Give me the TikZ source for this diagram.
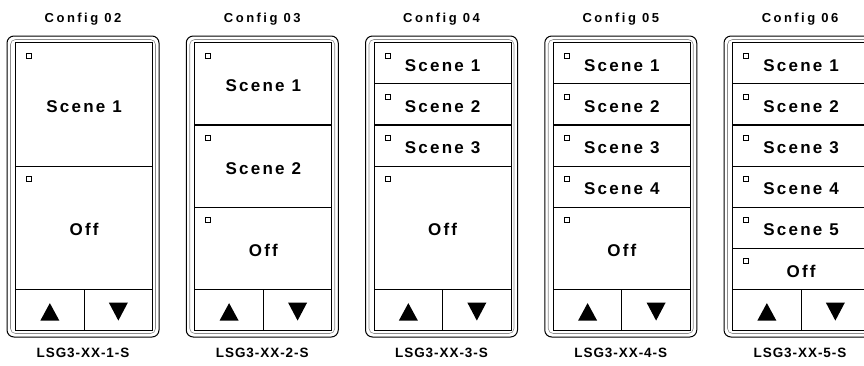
\documentclass[tikz,border=0pt]{standalone}
\usepackage{fontspec}
\setmainfont{Liberation Sans}
\newfontfamily\titlefont[LetterSpace=19]{Liberation Sans}
\newfontfamily\keyfont[LetterSpace=13]{Liberation Sans}
\newfontfamily\modelfont[LetterSpace=7]{Liberation Sans}
\usetikzlibrary{calc}
\tikzset{
  frame/.style={draw=black, line width=1pt, rounded corners=7pt},
  bevel/.style={draw=black!45, line width=0.6pt, rounded corners=5pt},
  btn/.style={draw=black, line width=1.2pt, minimum width=137pt, inner sep=0pt, anchor=north west},
  arrowbtn/.style={btn, minimum width=68.5pt, minimum height=41pt},
  lamp/.style={draw=black, line width=0.6pt, minimum size=5pt, inner sep=0pt, anchor=north west},
  keytext/.style={anchor=base, inner sep=0pt, font=\keyfont\bfseries\fontsize{17}{17}\selectfont},
  cfgtext/.style={anchor=base, inner sep=0pt, font=\titlefont\bfseries\fontsize{13}{13}\selectfont},
  modeltext/.style={anchor=base, inner sep=0pt, font=\modelfont\bfseries\fontsize{13.5}{13.5}\selectfont}
}
\begin{document}
\begin{tikzpicture}[x=1pt,y=-1pt]
	\useasboundingbox (0,0) rectangle (864,365);
	\clip (0,0) rectangle (864,365);
	\foreach \k/\cfg/\units in {
		1/02/{3/Scene 1,3/Off},
		2/03/{2/Scene 1,2/Scene 2,2/Off},
		3/04/{1/Scene 1,1/Scene 2,1/Scene 3,3/Off},
		4/05/{1/Scene 1,1/Scene 2,1/Scene 3,1/Scene 4,2/Off},
		5/06/{1/Scene 1,1/Scene 2,1/Scene 3,1/Scene 4,1/Scene 5,1/Off}}{
		\pgfmathsetmacro\xl{7+179.25*(\k-1)}
		% faceplate
		\draw[frame] (\xl,36) rectangle ++(152,301);
		\draw[bevel] (\xl+3.5,39.5) rectangle ++(145,294);
		\node[cfgtext] (cfg\k) at (\xl+76,22) {Config \cfg};
		\node[modeltext] (model\k) at (\xl+76,357) {LSG3-XX-\k-S};
		% scene buttons
		\foreach \u/\txt [count=\j, remember=\ybot as \ytop (initially 42)] in \units {
			\pgfmathsetmacro\ybot{\ytop+\u*247/6}
			\node[btn, minimum height=\u*247/6] (b\k-\j) at (\xl+8,\ytop) {};
			\node[lamp] (lamp\k-\j) at ($(b\k-\j.north west)+(11,10.5)$) {};
			\node[keytext] (t\k-\j) at ($(b\k-\j.center)+(0,8)$) {\txt};
		}
		% raise / lower
		\node[arrowbtn] (up\k) at (\xl+8,289) {};
		\node[arrowbtn] (dn\k) at (\xl+76.5,289) {};
		\fill[shift={(up\k.center)}] (-9.5,10.5) -- (9.5,10.5) -- (0,-7) -- cycle;
		\fill[shift={(dn\k.center)}] (-9.5,-7.5) -- (9.5,-7.5) -- (0,10.5) -- cycle;
	}
\end{tikzpicture}
\end{document}
